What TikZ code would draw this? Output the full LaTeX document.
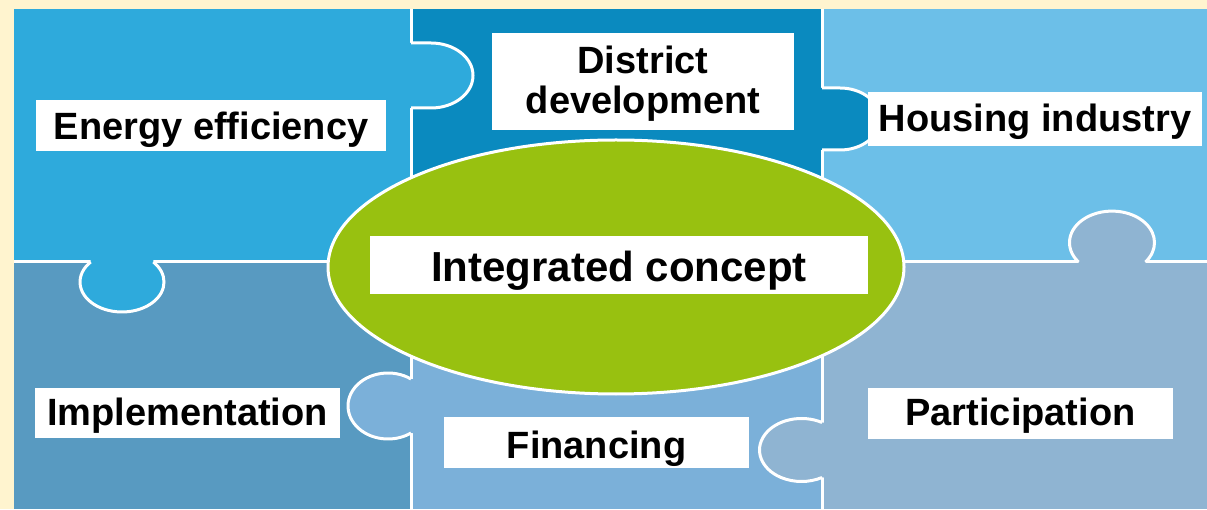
\documentclass[tikz,border=0pt]{standalone}
\usepackage{fontspec}
\setmainfont{Liberation Sans}
\definecolor{cream}{RGB}{255, 244, 207}
\definecolor{energyblue}{RGB}{46, 170, 220}
\definecolor{districtblue}{RGB}{10, 138, 191}
\definecolor{housingblue}{RGB}{108, 191, 232}
\definecolor{implblue}{RGB}{88, 154, 193}
\definecolor{financeblue}{RGB}{123, 176, 217}
\definecolor{partblue}{RGB}{143, 180, 210}
\definecolor{coregreen}{RGB}{152, 193, 16}
\usetikzlibrary{shapes.geometric}

\begin{document}
\begin{tikzpicture}[x=1pt, y=1pt,
  seam/.style={draw=white, line width=3pt},
  piecelabel/.style={fill=white, inner sep=0pt, align=center, text height=26pt, text depth=0pt, font=\bfseries\fontsize{38}{40}\selectfont},
]
  \useasboundingbox (0, 0) rectangle (1207, 509);
  \fill[cream] (0, 0) rectangle (1207, 509);

  \fill[energyblue] (14, 247) rectangle (411, 500);
  \fill[districtblue] (411, 247) rectangle (822, 500);
  \fill[housingblue] (822, 247) rectangle (1207, 500);
  \fill[implblue] (14, 0) rectangle (411, 247);
  \fill[financeblue] (411, 0) rectangle (822, 247);
  \fill[partblue] (822, 0) rectangle (1207, 247);

  \draw[seam] (411, 0) -- (411, 500);
  \draw[seam] (822, 0) -- (822, 500);
  \draw[seam] (14, 247) -- (1207, 247);

  \fill[energyblue] (409, 466) -- (431, 466) arc[start angle=90, end angle=-90, x radius=42pt, y radius=32.5pt] -- (409, 401) -- cycle;
  \draw[seam] (411, 466) -- (431, 466) arc[start angle=90, end angle=-90, x radius=42pt, y radius=32.5pt] -- (411, 401);

  \fill[districtblue] (820, 421) -- (840, 421) arc[start angle=90, end angle=-90, x radius=40pt, y radius=31pt] -- (820, 359) -- cycle;
  \draw[seam] (822, 421) -- (840, 421) arc[start angle=90, end angle=-90, x radius=40pt, y radius=31pt] -- (822, 359);

  \fill[energyblue] (90.7, 249) -- (90.7, 247) arc[start angle=138.2, end angle=401.8, x radius=42pt, y radius=30pt] -- (153.3, 249) -- cycle;
  \draw[seam] (90.7, 247) arc[start angle=138.2, end angle=401.8, x radius=42pt, y radius=30pt];

  \fill[partblue] (1078.5, 245) -- (1078.5, 247) arc[start angle=218, end angle=-38, x radius=42.5pt, y radius=31.5pt] -- (1145.5, 245) -- cycle;
  \draw[seam] (1078.5, 247) arc[start angle=218, end angle=-38, x radius=42.5pt, y radius=31.5pt];

  \fill[financeblue] (413, 130) -- (411, 130) arc[start angle=54.9, end angle=305.1, x radius=40pt, y radius=33pt] -- (413, 76) -- cycle;
  \draw[seam] (411, 130) arc[start angle=54.9, end angle=305.1, x radius=40pt, y radius=33pt];

  \fill[partblue] (824, 86.5) -- (822, 86.5) arc[start angle=60.8, end angle=299.2, x radius=42pt, y radius=31.5pt] -- (824, 31.5) -- cycle;
  \draw[seam] (822, 86.5) arc[start angle=60.8, end angle=299.2, x radius=42pt, y radius=31.5pt];

  \node[ellipse, draw=white, line width=3pt, fill=coregreen, minimum width=576pt, minimum height=254pt, inner sep=0pt] (core) at (616, 242) {};

  \node[piecelabel, minimum width=350pt, minimum height=51pt, text height=29pt] (energy) at (211, 383.5) {Energy efficiency};
  \node[piecelabel, minimum width=302pt, minimum height=97pt, text height=, text depth=] (district) at (643, 427.5) {\rule{0pt}{31pt}District\\development};
  \node[piecelabel, minimum width=334pt, minimum height=54pt] (housing) at (1035, 390) {Housing industry};
  \node[piecelabel, minimum width=498pt, minimum height=58pt, text height=34pt, font=\bfseries\fontsize{42}{44}\selectfont] (concept) at (619, 244) {Integrated concept};
  \node[piecelabel, minimum width=305pt, minimum height=50pt, text height=24pt] (impl) at (187.5, 96) {Implementation};
  \node[piecelabel, minimum width=305pt, minimum height=51pt, text height=31pt] (finance) at (596.5, 66.5) {Financing};
  \node[piecelabel, minimum width=305pt, minimum height=51pt, text height=23pt] (part) at (1020.5, 95.5) {Participation};
\end{tikzpicture}
\end{document}
